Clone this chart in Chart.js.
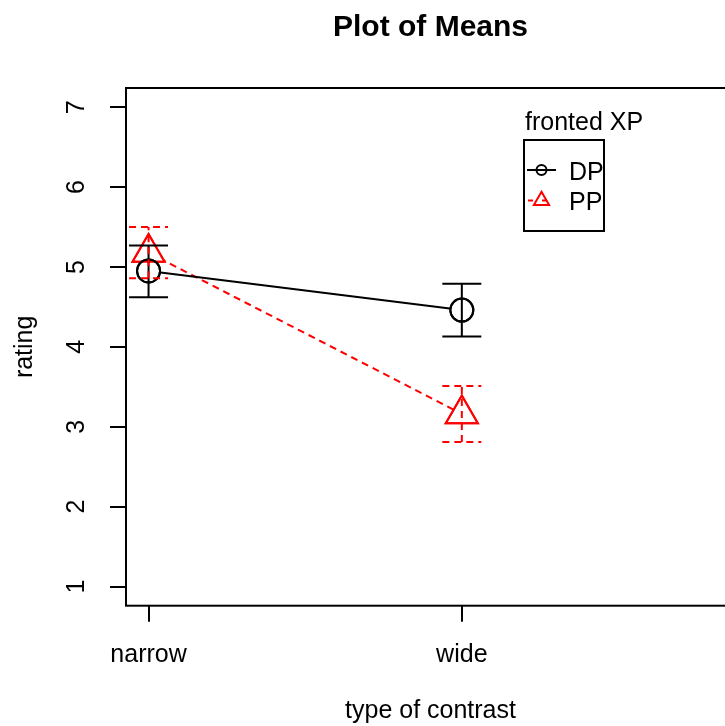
<!DOCTYPE html>
<html lang="en">
<head>
  <meta charset="UTF-8" />
  <title>Plot of Means</title>
  <script src="https://cdn.jsdelivr.net/npm/chart.js"></script>
  <style>
    html, body {
      margin: 0;
      padding: 0;
      overflow: hidden;
      background: #fff;
    }
    canvas {
      display: block;
    }
  </style>
</head>
<body>
<canvas id="grafico" width="790" height="726"></canvas>
<script>
  const categories = ["narrow", "wide"];
  const yTicks = [1, 2, 3, 4, 5, 6, 7];

  const dpMeans = [4.95, 4.46];
  const dpLower = [4.62, 4.13];
  const dpUpper = [5.27, 4.79];

  const ppMeans = [5.18, 3.16];
  const ppLower = [4.86, 2.81];
  const ppUpper = [5.50, 3.51];

  const FONT = "'Liberation Sans', Arial, Helvetica, sans-serif";
  Chart.defaults.font.family = FONT;
  Chart.defaults.color = "#000";

  const toPoints = (vals) => vals.map((v, i) => ({ x: i + 1, y: v }));

  // error bars (mean +/- se), drawn on top of the markers
  const errorBars = {
    id: "errorBars",
    afterDatasetsDraw(chart) {
      const { ctx, scales: { x, y } } = chart;
      const series = [
        { lo: dpLower, hi: dpUpper, color: "#000000", dash: [] },
        { lo: ppLower, hi: ppUpper, color: "#ff0000", dash: [7, 5] },
      ];
      ctx.save();
      ctx.lineWidth = 2;
      series.forEach((s) => {
        ctx.strokeStyle = s.color;
        ctx.setLineDash(s.dash);
        categories.forEach((c, i) => {
          const px = x.getPixelForValue(i + 1);
          const top = y.getPixelForValue(s.hi[i]);
          const bot = y.getPixelForValue(s.lo[i]);
          ctx.beginPath();
          ctx.moveTo(px, bot);
          ctx.lineTo(px, top);
          ctx.moveTo(px - 19.5, top);
          ctx.lineTo(px + 19.5, top);
          ctx.moveTo(px - 19.5, bot);
          ctx.lineTo(px + 19.5, bot);
          ctx.stroke();
        });
      });
      ctx.restore();
    },
  };

  // box, main title and the R style legend
  const frame = {
    id: "frame",
    afterDraw(chart) {
      const { ctx, chartArea: a } = chart;
      ctx.save();
      ctx.strokeStyle = "#000";
      ctx.lineWidth = 2;
      ctx.strokeRect(a.left, a.top, a.right - a.left, a.bottom - a.top);

      ctx.fillStyle = "#000";
      ctx.font = "bold 30px " + FONT;
      ctx.textAlign = "center";
      ctx.textBaseline = "alphabetic";
      ctx.fillText("Plot of Means", (a.left + a.right) / 2, 36);

      // legend
      ctx.font = "25px " + FONT;
      ctx.textAlign = "left";
      ctx.fillText("fronted XP", 525, 130);
      ctx.strokeRect(524, 140, 80, 91);

      // DP
      ctx.beginPath();
      ctx.moveTo(527, 170);
      ctx.lineTo(556, 170);
      ctx.stroke();
      ctx.beginPath();
      ctx.arc(541.5, 170, 5, 0, Math.PI * 2);
      ctx.stroke();
      ctx.fillText("DP", 569, 180);

      // PP
      ctx.strokeStyle = "#ff0000";
      ctx.setLineDash([5, 9]);
      ctx.beginPath();
      ctx.moveTo(528, 200.5);
      ctx.lineTo(556, 200.5);
      ctx.stroke();
      ctx.setLineDash([]);
      const r = 8.8, cx = 541.5, cy = 200.5;
      ctx.beginPath();
      ctx.moveTo(cx, cy - r);
      ctx.lineTo(cx + r * 0.866, cy + r / 2);
      ctx.lineTo(cx - r * 0.866, cy + r / 2);
      ctx.closePath();
      ctx.stroke();
      ctx.fillText("PP", 569, 210);
      ctx.restore();
    },
  };

  new Chart(document.getElementById("grafico"), {
    type: "line",
    data: {
      datasets: [
        {
          label: "DP",
          data: toPoints(dpMeans),
          borderColor: "#000000",
          borderWidth: 2,
          pointStyle: "circle",
          pointRadius: 11.5,
          pointBorderWidth: 2,
          pointBorderColor: "#000000",
          pointBackgroundColor: "#ffffff",
          fill: false,
          order: 2,
        },
        {
          label: "PP",
          data: toPoints(ppMeans),
          borderColor: "#ff0000",
          borderWidth: 2,
          borderDash: [7, 5],
          pointStyle: "triangle",
          pointRadius: 18.5,
          pointBorderWidth: 2,
          pointBorderColor: "#ff0000",
          pointBackgroundColor: "#ffffff",
          fill: false,
          order: 2,
        },
        {
          label: "DP outline",
          data: toPoints(dpMeans),
          showLine: false,
          pointStyle: "circle",
          pointRadius: 11.5,
          pointBorderWidth: 2,
          pointBorderColor: "#000000",
          pointBackgroundColor: "rgba(0,0,0,0)",
          order: 1,
        },
        {
          label: "PP outline",
          data: toPoints(ppMeans),
          showLine: false,
          pointStyle: "triangle",
          pointRadius: 18.5,
          pointBorderWidth: 2,
          pointBorderColor: "#ff0000",
          pointBackgroundColor: "rgba(0,0,0,0)",
          order: 1,
        },
      ],
    },
    options: {
      responsive: false,
      animation: false,
      events: [],
      layout: {
        padding: { top: 88, right: 55, left: 0, bottom: 0 },
      },
      plugins: {
        legend: { display: false },
        tooltip: { enabled: false },
        title: { display: false },
      },
      scales: {
        x: {
          type: "linear",
          min: 0.928,
          max: 2.872,
          afterBuildTicks: (s) => {
            s.ticks = categories.map((c, i) => ({ value: i + 1 }));
          },
          afterFit: (s) => {
            s.height = 120.3;
          },
          ticks: {
            callback: (v) => categories[Math.round(v) - 1],
            color: "#000",
            font: { size: 25 },
            padding: 18,
            autoSkip: false,
            maxRotation: 0,
          },
          grid: {
            drawOnChartArea: false,
            drawTicks: true,
            tickLength: 16,
            color: "#000",
            lineWidth: 2,
          },
          border: { display: false },
          title: {
            display: true,
            text: "type of contrast",
            color: "#000",
            font: { size: 25 },
            padding: { top: 0, bottom: 0 },
          },
        },
        y: {
          type: "linear",
          min: 0.76,
          max: 7.24,
          afterBuildTicks: (s) => {
            s.ticks = yTicks.map((v) => ({ value: v }));
          },
          afterFit: (s) => {
            s.width = 126;
          },
          ticks: {
            callback: (v) => String(v),
            color: "#000",
            font: { size: 25 },
            minRotation: 90,
            maxRotation: 90,
            crossAlign: "center",
            padding: 26,
            autoSkip: false,
          },
          grid: {
            drawOnChartArea: false,
            drawTicks: true,
            tickLength: 16,
            color: "#000",
            lineWidth: 2,
          },
          border: { display: false },
          title: {
            display: true,
            text: "rating",
            color: "#000",
            font: { size: 25 },
            padding: { top: 10, bottom: 0 },
          },
        },
      },
    },
    plugins: [errorBars, frame],
  });
</script>
</body>
</html>
